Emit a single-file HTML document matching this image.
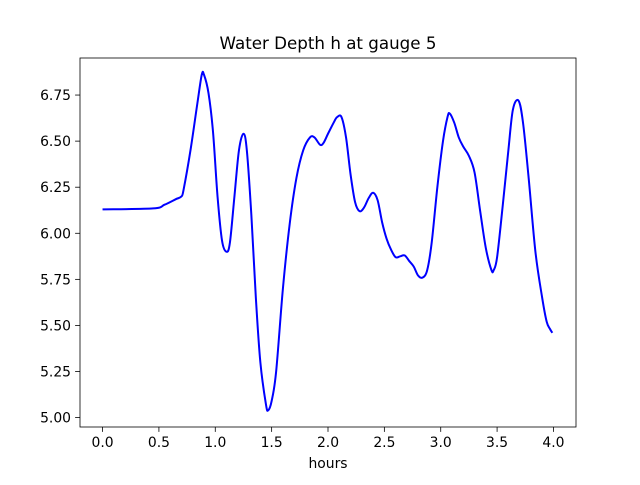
<!DOCTYPE html>
<html><head><meta charset="utf-8"><style>
body{margin:0;background:#fff}
svg text{font-family:"DejaVu Sans","Liberation Sans",sans-serif;fill:#000}
</style></head><body>
<svg id="chart" width="640" height="480" viewBox="0 0 640 480" xmlns="http://www.w3.org/2000/svg">
<rect x="0" y="0" width="640" height="480" fill="#fff"/>
<text x="328" y="49" font-size="16.7" text-anchor="middle">Water Depth h at gauge 5</text>
<g id="ticks"></g>
<path id="line" fill="none" stroke="#0000ff" stroke-width="2" stroke-linejoin="round"/>
<rect x="80" y="58" width="496" height="369" fill="none" stroke="#000" stroke-width="0.8"/>
<text x="328" y="468" font-size="13.9" text-anchor="middle">hours</text>
</svg>
<script>
const hours=[0,0.45,0.55,0.65,0.7,0.72,0.78,0.84,0.88,0.9,0.94,0.98,1.02,1.06,1.1,1.13,1.17,1.21,1.25,1.28,1.32,1.36,1.4,1.45,1.47,1.5,1.54,1.6,1.66,1.72,1.78,1.84,1.88,1.93,1.96,2.0,2.05,2.08,2.12,2.16,2.2,2.24,2.28,2.32,2.36,2.4,2.44,2.48,2.52,2.56,2.6,2.64,2.68,2.72,2.76,2.8,2.84,2.88,2.92,2.97,3.02,3.06,3.08,3.12,3.16,3.2,3.25,3.3,3.35,3.4,3.45,3.47,3.5,3.55,3.6,3.64,3.69,3.73,3.78,3.84,3.9,3.94,3.97,3.99];
const depth=[6.13,6.135,6.155,6.185,6.2,6.24,6.45,6.7,6.86,6.86,6.76,6.55,6.2,5.96,5.9,5.95,6.2,6.45,6.54,6.45,6.1,5.65,5.3,5.07,5.04,5.09,5.25,5.7,6.05,6.3,6.45,6.52,6.52,6.48,6.49,6.54,6.6,6.63,6.63,6.52,6.32,6.17,6.12,6.14,6.19,6.22,6.18,6.06,5.97,5.91,5.87,5.875,5.88,5.85,5.82,5.77,5.76,5.8,5.95,6.25,6.5,6.63,6.65,6.6,6.52,6.47,6.42,6.33,6.12,5.92,5.8,5.8,5.87,6.15,6.45,6.67,6.72,6.6,6.3,5.9,5.65,5.52,5.48,5.46];
const xTicks=[0,0.5,1,1.5,2,2.5,3,3.5,4];
const yTicks=[5,5.25,5.5,5.75,6,6.25,6.5,6.75];
const L=80,R=576,T=58,B=427;
const xmin=-0.2,xmax=4.2,ymin=4.949,ymax=6.951;
const X=v=>L+(v-xmin)/(xmax-xmin)*(R-L);
const Y=v=>B-(v-ymin)/(ymax-ymin)*(B-T);
const NS='http://www.w3.org/2000/svg';
const g=document.getElementById('ticks');
function mk(tag,attrs){const e=document.createElementNS(NS,tag);for(const k in attrs)e.setAttribute(k,attrs[k]);g.appendChild(e);return e;}
xTicks.forEach(t=>{
 const l=mk('line',{x1:X(t),x2:X(t),y1:B,y2:B+4.9,stroke:'#000','stroke-width':0.8});
 
 
 const tx=mk('text',{x:X(t),y:B+20,'font-size':13.9,'text-anchor':'middle'});
 tx.textContent=t.toFixed(1);
 
 
});
yTicks.forEach(t=>{
 const l=mk('line',{x1:L-4.9,x2:L,y1:Y(t),y2:Y(t),stroke:'#000','stroke-width':0.8});
 
 
 const tx=mk('text',{x:L-9,y:Y(t)+5,'font-size':13.9,'text-anchor':'end'});
 tx.textContent=t.toFixed(2);
 
 
});
const pts=hours.map((h,i)=>[X(h),Y(depth[i])]);
let d='M'+pts[0][0]+','+pts[0][1];
for(let i=0;i<pts.length-1;i++){
 const p0=pts[Math.max(0,i-1)],p1=pts[i],p2=pts[i+1],p3=pts[Math.min(pts.length-1,i+2)];
 const c1=[p1[0]+(p2[0]-p0[0])/6,p1[1]+(p2[1]-p0[1])/6];
 const c2=[p2[0]-(p3[0]-p1[0])/6,p2[1]-(p3[1]-p1[1])/6];
 d+=' C'+c1+' '+c2+' '+p2;
}
document.getElementById('line').setAttribute('d',d);
</script>
</body></html>
